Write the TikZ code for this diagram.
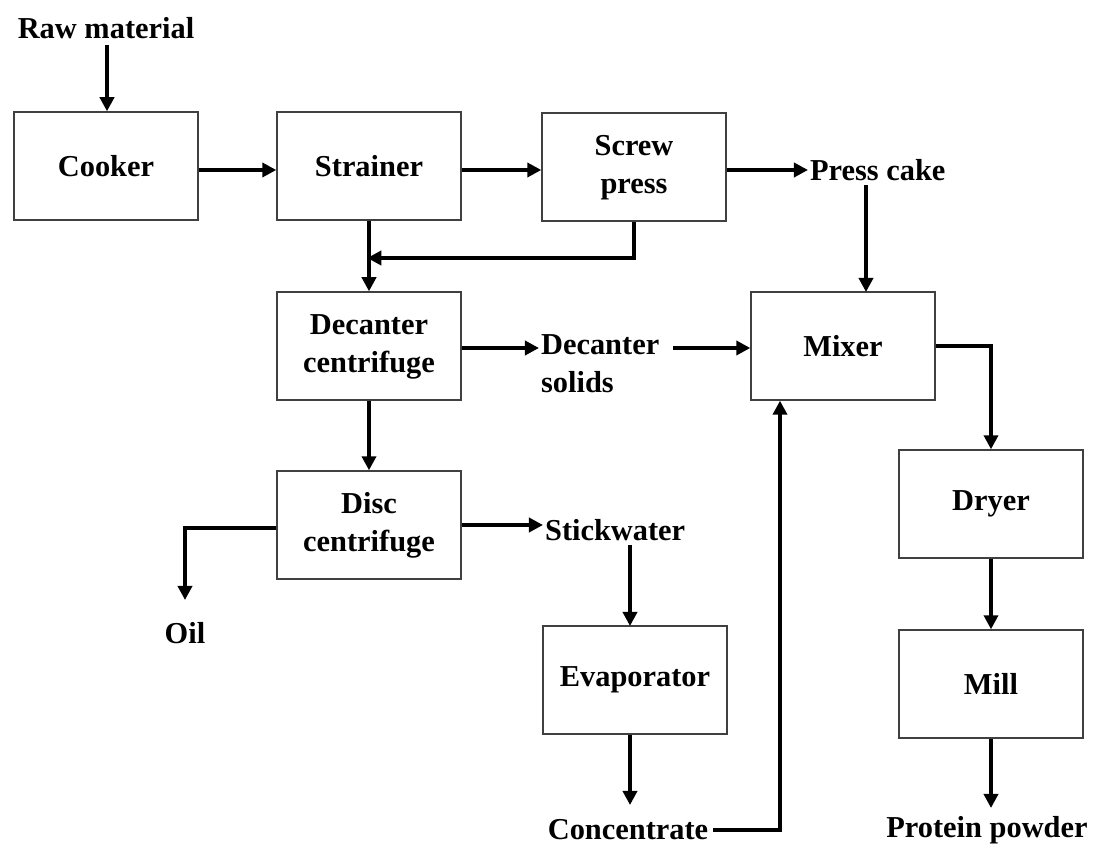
\documentclass[tikz,border=0pt]{standalone}
\usepackage{fontspec}
\setmainfont{Liberation Serif}
\usetikzlibrary{arrows.meta}
\begin{document}
\begin{tikzpicture}[x=0.02cm,y=-0.02cm,
  every node/.style={font=\fontsize{17.3}{21.5}\selectfont\bfseries},
  box/.style={draw=black!75,line width=0.8pt,minimum width=3.68cm,minimum height=2.16cm,align=center,inner sep=0pt},
  lbl/.style={inner sep=1pt,align=center},
  flow/.style={line width=2.3pt,-{Triangle[length=8pt,width=8pt]}},
  line/.style={line width=2.3pt}]
\useasboundingbox (0,0) rectangle (1096,844);
\node[box] (cook) at (106,166) {Cooker};
\node[box] (str) at (369,166) {Strainer};
\node[box] (scr) at (634,167) {\raisebox{-4pt}{\begin{tabular}{@{}c@{}}Screw\\press\end{tabular}}};
\node[box] (dec) at (369,346) {\raisebox{-4pt}{\begin{tabular}{@{}c@{}}Decanter\\centrifuge\end{tabular}}};
\node[box] (mix) at (843,346) {Mixer};
\node[box] (disc) at (369,525) {\raisebox{-4pt}{\begin{tabular}{@{}c@{}}Disc\\centrifuge\end{tabular}}};
\node[box] (dry) at (991,504) {Dryer};
\node[box] (eva) at (635,680) {Evaporator};
\node[box] (mill) at (991,684) {Mill};
\node[lbl] (raw) at (106,28) {Raw material};
\node[lbl,anchor=west] (pc) at (808,170) {Press cake};
\node[lbl,anchor=west,align=left] (ds) at (539,364) {Decanter\\solids};
\node[lbl,anchor=west] (sw) at (543,530) {Stickwater};
\node[lbl] (oil) at (185,633) {Oil};
\node[lbl] (conc) at (628,830) {Concentrate};
\node[lbl] (prot) at (987,830) {Protein powder};
\coordinate (c1) at (107,45);
\coordinate (j1) at (369,258);
\coordinate (o1) at (185,528);
\coordinate (m1) at (780,830);
\coordinate (p1) at (991,346);
\draw[flow] (c1) -- (c1 |- cook.north);
\draw[flow] (cook.east |- 0,170) -- (str.west |- 0,170);
\draw[flow] (str.east |- 0,170) -- (scr.west |- 0,170);
\draw[flow] (scr.east |- 0,170) -- (pc.west |- 0,170);
\draw[flow] (866,185) -- (866,292);
\draw[line] (scr.south) -- (scr.south |- j1);
\draw[flow] ([xshift=1.15pt]scr.south |- j1) -- ([xshift=-1pt]j1);
\draw[flow] (str.south) -- (dec.north);
\draw[flow] (dec.east |- 0,348) -- (ds.west |- 0,348);
\draw[flow] (673,348) -- (mix.west |- 0,348);
\draw[flow] (dec.south) -- (disc.north);
\draw[flow] (disc.east) -- (sw.west |- disc.east);
\draw[flow] (disc.west |- o1) -- (o1) -- (185,600);
\draw[flow] (630,545) -- (630,626);
\draw[flow] (630,735) -- (630,805);
\draw[flow] ([xshift=1.5pt]conc.east) -- (m1) -- (m1 |- mix.south);
\draw[flow] (mix.east) -- (p1) -- (dry.north);
\draw[flow] (dry.south) -- (mill.north);
\draw[flow] (mill.south) -- (991,808);
\end{tikzpicture}
\end{document}
